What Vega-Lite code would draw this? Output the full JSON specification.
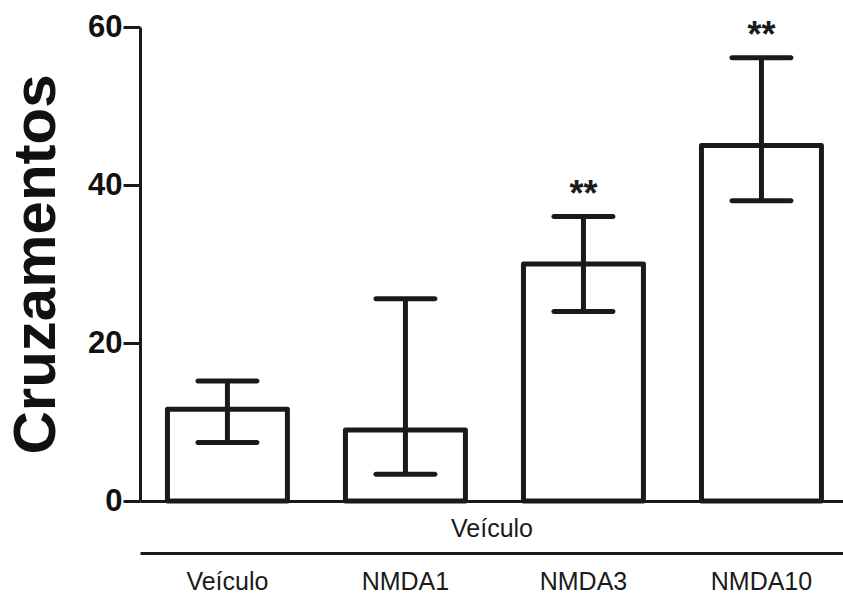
{
  "$schema": "https://vega.github.io/schema/vega-lite/v6.json",
  "width": 703,
  "height": 474,
  "autosize": "none",
  "padding": {"left": 140, "top": 27, "right": 0, "bottom": 95},
  "background": "#ffffff",
  "config": {
    "view": {"stroke": null},
    "font": "Liberation Sans"
  },
  "data": {
    "values": [
      {"grupo": "Veículo", "media": 11.6, "inf": 7.4, "sup": 15.2, "sig": ""},
      {"grupo": "NMDA1", "media": 9.0, "inf": 3.4, "sup": 25.6, "sig": ""},
      {"grupo": "NMDA3", "media": 30.0, "inf": 24.0, "sup": 36.0, "sig": "**"},
      {"grupo": "NMDA10", "media": 45.0, "inf": 38.0, "sup": 56.1, "sig": "**"}
    ]
  },
  "resolve": {"axis": {"x": "independent"}},
  "layer": [
    {
      "mark": {"type": "bar", "fill": "#ffffff", "stroke": "#1a1a1a", "strokeWidth": 5, "strokeJoin": "round"},
      "encoding": {
        "x": {
          "field": "grupo", "type": "nominal", "sort": null,
          "scale": {"paddingInner": 0.326, "paddingOuter": 0.1376, "align": 0.56},
          "axis": {
            "orient": "bottom", "labels": false, "ticks": false, "tickSize": 0,
            "domainColor": "#1a1a1a", "domainWidth": 3,
            "title": "Veículo", "titleFontSize": 25, "titleFontWeight": "normal",
            "titleColor": "#1a1a1a", "titlePadding": 15
          }
        },
        "y": {
          "field": "media", "type": "quantitative",
          "scale": {"domain": [0, 60], "nice": false},
          "axis": {
            "values": [0, 20, 40, 60], "grid": false,
            "domainColor": "#1a1a1a", "domainWidth": 3,
            "tickColor": "#1a1a1a", "tickWidth": 3, "tickSize": 17,
            "labelFontSize": 31, "labelFontWeight": "bold", "labelColor": "#111111", "labelPadding": 1,
            "title": "Cruzamentos", "titleFontSize": 60, "titleFontWeight": "bold",
            "titleColor": "#111111", "titlePadding": 20
          }
        }
      }
    },
    {
      "mark": {"type": "rule", "stroke": "#1a1a1a", "strokeWidth": 5},
      "encoding": {
        "x": {
          "field": "grupo", "type": "nominal", "sort": null,
          "axis": {
            "orient": "bottom", "offset": 52, "ticks": false, "tickSize": 0,
            "domainColor": "#1a1a1a", "domainWidth": 3,
            "labelFontSize": 25, "labelColor": "#1a1a1a", "labelPadding": 16,
            "labelAngle": 0, "title": null
          }
        },
        "y": {"field": "inf", "type": "quantitative"},
        "y2": {"field": "sup"}
      }
    },
    {
      "mark": {"type": "tick", "color": "#1a1a1a", "size": 64, "thickness": 5, "cornerRadius": 2.5, "opacity": 1},
      "encoding": {
        "x": {"field": "grupo", "type": "nominal", "sort": null, "axis": null},
        "y": {"field": "inf", "type": "quantitative"}
      }
    },
    {
      "mark": {"type": "tick", "color": "#1a1a1a", "size": 64, "thickness": 5, "cornerRadius": 2.5, "opacity": 1},
      "encoding": {
        "x": {"field": "grupo", "type": "nominal", "sort": null, "axis": null},
        "y": {"field": "sup", "type": "quantitative"}
      }
    },
    {
      "mark": {"type": "text", "fontSize": 36, "fontWeight": "bold", "color": "#1a1a1a", "baseline": "middle", "dy": -22},
      "encoding": {
        "x": {"field": "grupo", "type": "nominal", "sort": null, "axis": null},
        "y": {"field": "sup", "type": "quantitative"},
        "text": {"field": "sig"}
      }
    }
  ]
}
